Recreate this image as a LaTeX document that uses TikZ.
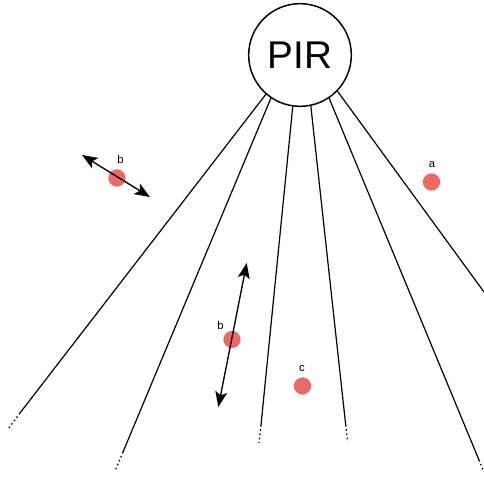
\documentclass[tikz,border=0pt]{standalone}
\usepackage{fontspec}
\setsansfont{Liberation Sans}
\usetikzlibrary{arrows.meta}
\definecolor{ink}{HTML}{000000}
\definecolor{spotred}{HTML}{EA6B66}
\begin{document}
\begin{tikzpicture}[x=0.75pt,y=-0.75pt,font=\sffamily,
  ray/.style={draw=ink,line width=0.9pt},
  tail/.style={ray,dash pattern=on 1.2pt off 2pt},
  spot/.style={circle,fill=spotred,inner sep=0pt,minimum size=13pt},
  tag/.style={font=\sffamily\fontsize{8.5}{9}\selectfont,inner sep=0pt},
  move/.style={draw=ink,line width=1pt,{Stealth[length=11.5pt,width=9pt,inset=2.5pt]}-{Stealth[length=11.5pt,width=9pt,inset=2.5pt]}}]
\useasboundingbox (0,0) rectangle (484,476);
\node[circle,draw=ink,line width=1.1pt,minimum size=77pt,inner sep=0pt,font=\sffamily\fontsize{29}{32}\selectfont] (pir) at (300,55) {PIR};
\foreach \n/\a/\e/\f in {1/229.6/{20,413}/{8,429},2/236/{123,452}/{115,471},3/262.3/{261,425}/{259,443},4/282.5/{345.7,425}/{347.5,442},5/304.6/{479,460}/{483.5,471}} {\coordinate (e\n) at (\e); \coordinate (f\n) at (\f); \draw[ray] (pir.\a) -- (e\n); \draw[tail] (e\n) -- (f\n);}
\coordinate (e6) at (484,292);
\draw[ray] (pir.316.5) -- (e6);
\node[spot] (a) at (431.5,182) {};
\node[spot] (b1) at (117,178) {};
\node[spot] (b2) at (232,339.5) {};
\node[spot] (c) at (302.5,386) {};
\node[tag] (la) at (432,164) {a};
\node[tag] (lb1) at (120.5,159.5) {b};
\node[tag] (lb2) at (220.5,325.5) {b};
\node[tag] (lc) at (302,368) {c};
\coordinate (p1) at (82,155);
\coordinate (q1) at (150,197);
\draw[move] (p1) -- (q1);
\coordinate (p2) at (246.7,263);
\coordinate (q2) at (218.3,407);
\draw[move] (p2) -- (q2);
\end{tikzpicture}
\end{document}
